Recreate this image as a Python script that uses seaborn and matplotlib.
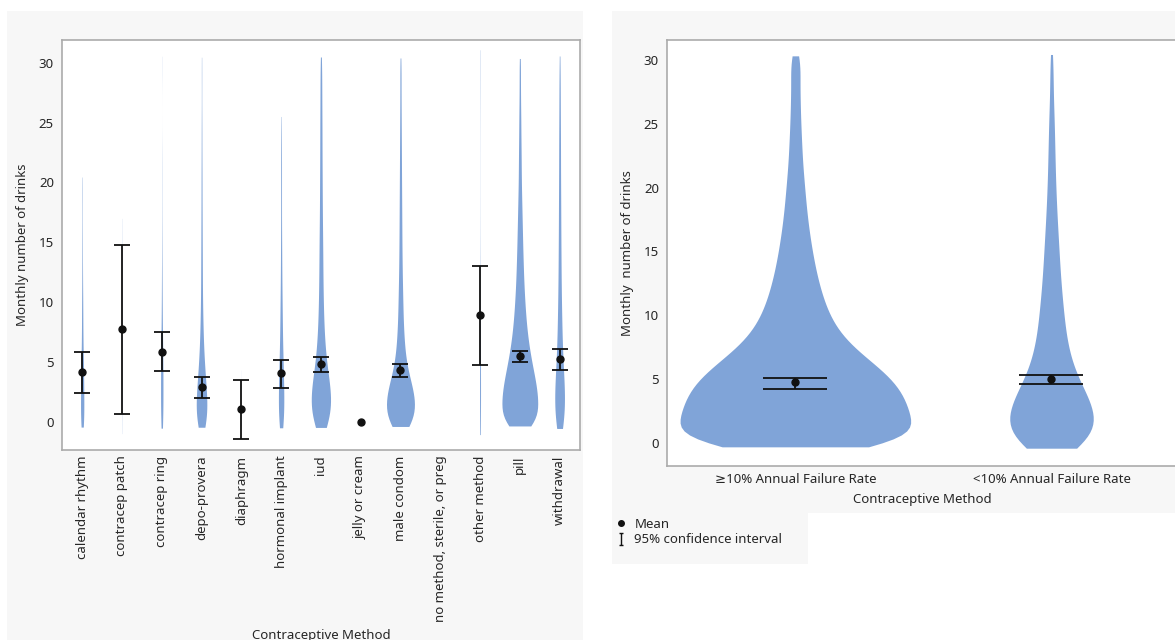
import numpy as np
import pandas as pd
import seaborn as sns
import matplotlib.pyplot as plt
from matplotlib.lines import Line2D
from matplotlib.patches import Rectangle
from matplotlib.path import Path

# Monthly number of drinks is recorded as a whole number 0..30
DRINKS = list(range(31))

METHODS = [
    "calendar rhythm", "contracep patch", "contracep ring", "depo-provera",
    "diaphragm", "hormonal implant", "iud", "jelly or cream", "male condom",
    "no method, sterile, or preg", "other method", "pill", "withdrawal",
]

# respondents per drinks value (list index = drinks)
calendar_rhythm = [14, 9, 9, 9, 8, 7, 5, 4, 4, 3, 4, 2, 2, 2, 1, 2, 1, 1, 1, 1, 2]
contracep_patch = [1, 0, 0, 1, 0, 0, 0, 1, 0, 0, 0, 0, 1, 0, 0, 0, 1]
contracep_ring = [8, 6, 6, 6, 6, 6, 5, 4, 3, 2, 3, 1, 2, 1, 1, 1, 1, 0, 1, 0,
                  1, 0, 1, 0, 0, 0, 0, 0, 0, 0, 1]
depo_provera = [45, 36, 35, 29, 23, 17, 14, 11, 9, 8, 6, 6, 5, 5, 5, 4, 4, 4,
                3, 3, 3, 3, 2, 2, 2, 2, 1, 1, 1, 1, 2]
diaphragm = [3, 0, 0, 0, 1]
hormonal_implant = [18, 14, 14, 13, 12, 10, 8, 7, 6, 6, 5, 4, 4, 3, 3, 3, 2, 2,
                    2, 2, 2, 2, 2, 2, 1, 2]
iud = [58, 57, 59, 51, 40, 29, 24, 20, 16, 15, 13, 12, 11, 11, 10, 10, 9, 8, 8,
       7, 7, 7, 6, 6, 6, 6, 5, 5, 5, 4, 6]
jelly_or_cream = [1]
male_condom = [112, 104, 106, 83, 57, 39, 31, 25, 21, 18, 17, 15, 13, 12, 11,
               10, 10, 9, 9, 8, 8, 7, 7, 6, 6, 5, 5, 4, 4, 4, 5]
no_method = []
other_method = [5, 2, 2, 2, 2, 2, 1, 1, 1, 0, 2, 0, 1, 0, 0, 1, 0, 0, 0, 0, 1,
                0, 0, 0, 0, 1, 0, 0, 0, 0, 3]
pill = [115, 103, 105, 96, 82, 68, 56, 46, 39, 33, 29, 25, 22, 20, 18, 16, 15,
        13, 12, 10, 9, 8, 8, 7, 6, 6, 5, 4, 4, 3, 5]
withdrawal = [29, 23, 23, 21, 19, 14, 12, 11, 10, 9, 8, 7, 7, 6, 6, 6, 5, 5, 5,
              5, 4, 4, 4, 4, 4, 3, 3, 3, 3, 2, 3]

METHOD_COUNTS = [calendar_rhythm, contracep_patch, contracep_ring, depo_provera,
                 diaphragm, hormonal_implant, iud, jelly_or_cream, male_condom,
                 no_method, other_method, pill, withdrawal]

# mean and 95% CI per method
MEAN = [4.18, 7.75, 5.85, 2.87, 1.03, 4.04, 4.82, 0.0, 4.32, np.nan, 8.92, 5.52, 5.24]
CI_LO = [2.37, 0.64, 4.24, 1.98, -1.47, 2.79, 4.13, np.nan, 3.71, np.nan, 4.77, 4.96, 4.32]
CI_HI = [5.85, 14.74, 7.50, 3.71, 3.48, 5.15, 5.43, np.nan, 4.85, np.nan, 13.01, 5.93, 6.05]

GROUPS = ["\u226510% Annual Failure Rate", "<10% Annual Failure Rate"]
high_failure = [250, 214, 210, 205, 195, 178, 150, 118, 92, 74, 62, 53, 46, 40, 35,
                31, 27, 24, 21, 19, 17, 15, 13, 12, 11, 10, 9, 9, 8, 8, 12]
low_failure = [95, 84, 84, 78, 63, 48, 39, 33, 28, 25, 23, 21, 18, 17, 15, 14, 13,
               11, 10, 9, 8, 7, 7, 6, 6, 5, 5, 3, 3, 3, 4]
GROUP_COUNTS = [high_failure, low_failure]
GROUP_MEAN = [4.73, 4.99]
GROUP_CI_LO = [4.21, 4.60]
GROUP_CI_HI = [5.10, 5.31]

VIOLIN = "#80A4D8"
PANEL = "#F7F7F7"
TEXT = "#262626"
FS = 9.5
W, H = 1175, 640


def long_table(names, count_lists, col):
    frames = []
    for name, counts in zip(names, count_lists):
        if sum(counts) < 2:  # no density for a single respondent
            continue
        values = np.repeat(DRINKS[:len(counts)], counts)
        frames.append(pd.DataFrame({col: name, "drinks": values}))
    return pd.concat(frames, ignore_index=True)


def style_axes(ax):
    for s in ax.spines.values():
        s.set_color("#ABABAB")
        s.set_linewidth(1.2)
    ax.tick_params(axis="y", length=4, width=1, color="#ABABAB",
                   labelsize=FS, labelcolor=TEXT, pad=2)
    ax.tick_params(axis="x", length=0, labelsize=FS, labelcolor=TEXT)
    ax.set_yticks(range(0, 31, 5))


def main():
    sns.set_theme(style="white")
    plt.rcParams["font.family"] = ["Noto Sans", "DejaVu Sans"]

    fig = plt.figure(figsize=(W / 100, H / 100), dpi=100)
    fig.patch.set_facecolor("white")
    # light grey report panels behind each graph and the legend
    for x0, y0, x1, y1 in [(7, 11, 583, 640), (612, 11, 1175, 513), (612, 513, 808, 564)]:
        fig.add_artist(Rectangle((x0 / W, 1 - y1 / H), (x1 - x0) / W, (y1 - y0) / H,
                                 transform=fig.transFigure, facecolor=PANEL,
                                 edgecolor="none", zorder=-10))

    ax1 = fig.add_axes([62.3 / W, 1 - 450 / H, 517.2 / W, 410.3 / H])
    ax2 = fig.add_axes([667.3 / W, 1 - 466 / H, 509.7 / W, 426 / H])

    # ---- left: every method
    df = long_table(METHODS, METHOD_COUNTS, "method")
    sns.violinplot(data=df, x="method", y="drinks", order=METHODS, color=VIOLIN,
                   saturation=1, inner=None, linewidth=0, width=0.9, cut=0.35,
                   bw_adjust=0.6, density_norm="count", ax=ax1)
    pos = np.arange(len(METHODS))
    mean = np.array(MEAN)
    ax1.errorbar(pos, mean, yerr=[mean - np.array(CI_LO), np.array(CI_HI) - mean],
                 fmt="o", color="#111111", ms=5, elinewidth=1.3, capsize=6,
                 capthick=1.3, zorder=5)
    ax1.set_xlim(-0.5, 12.5)
    ax1.set_ylim(-2.36, 31.92)
    style_axes(ax1)
    ax1.tick_params(axis="x", labelrotation=90, pad=4)
    ax1.set_xlabel("Contraceptive Method", fontsize=FS, color=TEXT, labelpad=5)
    ax1.set_ylabel("Monthly number of drinks", fontsize=FS, color=TEXT, labelpad=7)

    # ---- right: grouped by annual failure rate
    dg = long_table(GROUPS, GROUP_COUNTS, "group")
    sns.violinplot(data=dg, x="group", y="drinks", order=GROUPS, color=VIOLIN,
                   saturation=1, inner=None, linewidth=0, width=0.9, cut=0.3,
                   bw_adjust=0.8, density_norm="count", ax=ax2)
    gpos = np.arange(len(GROUPS))
    gmean = np.array(GROUP_MEAN)
    ax2.errorbar(gpos, gmean,
                 yerr=[gmean - np.array(GROUP_CI_LO), np.array(GROUP_CI_HI) - gmean],
                 fmt="o", color="#111111", ms=5, elinewidth=1.3, capsize=23,
                 capthick=1.3, zorder=5)
    ax2.set_xlim(-0.5, 1.49)
    ax2.set_ylim(-1.83, 31.57)
    style_axes(ax2)
    ax2.tick_params(axis="x", pad=5)
    ax2.set_xlabel("Contraceptive Method", fontsize=FS, color=TEXT, labelpad=5)
    ax2.set_ylabel("Monthly  number of drinks", fontsize=FS, color=TEXT, labelpad=7)

    # legend under the right graph
    ibeam = Path([(-0.35, 1), (0.35, 1), (0, 1), (0, -1), (-0.35, -1), (0.35, -1)],
                 [Path.MOVETO, Path.LINETO, Path.MOVETO, Path.LINETO,
                  Path.MOVETO, Path.LINETO])
    handles = [
        Line2D([], [], ls="none", marker="o", ms=4, color="#111111"),
        Line2D([], [], ls="none", marker=ibeam, ms=8, mew=1, color="#111111"),
    ]
    fig.legend(handles, ["Mean", "95% confidence interval"], loc="upper left",
               bbox_to_anchor=(612 / W, 1 - 515 / H), frameon=False, fontsize=FS,
               handlelength=1.0, handletextpad=0.5, labelspacing=0.2,
               borderpad=0.2, borderaxespad=0, labelcolor=TEXT)

    fig.savefig("out.png", dpi=100, facecolor="white")


if __name__ == "__main__":
    main()
